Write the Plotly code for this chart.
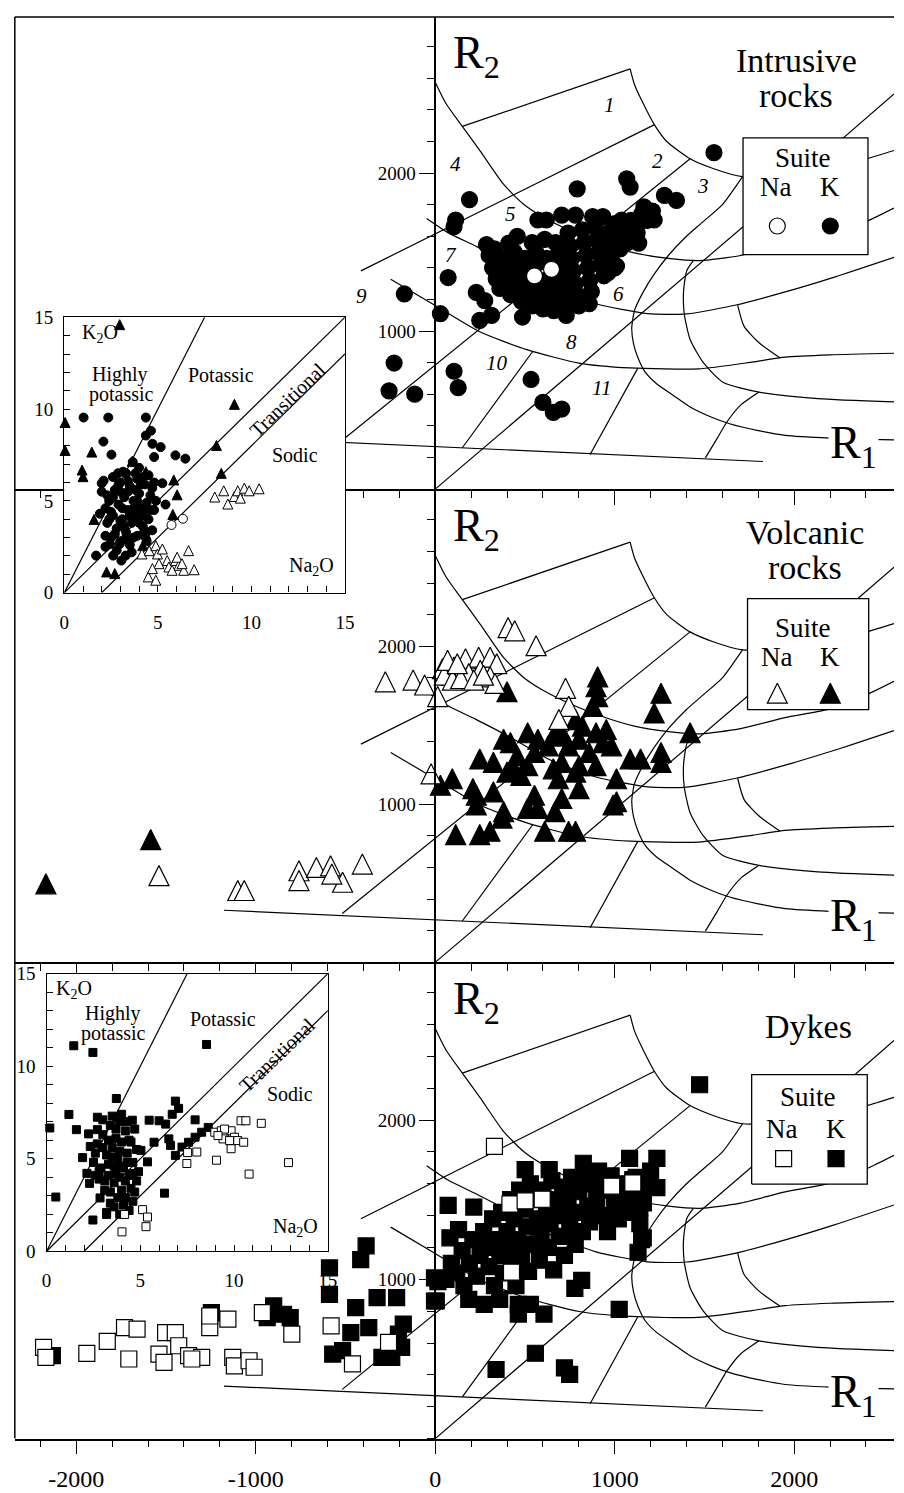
import plotly.graph_objects as go

W, H = 904, 1493
SERIF = "Liberation Serif"

# ---------------- R1-R2 diagram boundaries (R1, R2) ----------------
B_LINE = [(-1177, 330), (1826, 175)]
L1 = [(151, 2295), (1086, 2659)]
L2 = [(-414, 1381), (1219, 2305)]
L3 = [(-518, 309), (1420, 2091)]
L4 = [(0, 0), (1800, 1742)]
L7 = [(1505, 198), (1570, 320), (1625, 425), (1700, 530), (1804, 614)]
L8 = [(151, 262), (543, 871)]
L9 = [(863, 219), (1128, 764)]
LD = [(2200, 2150), (2556, 2500)]
C0 = [(0, 2575), (60, 2440), (151, 2295), (251, 2139), (379, 1931), (489, 1806), (598, 1723),
      (744, 1640), (927, 1557), (1109, 1495), (1300, 1460), (1475, 1446), (1694, 1477),
      (1950, 1549), (2187, 1601), (2406, 1696), (2556, 1779)]
C1 = [(1086, 2659), (1110, 2560), (1150, 2460), (1219, 2310), (1290, 2200), (1420, 2091),
      (1548, 2029), (1712, 1977), (2000, 1990), (2200, 2030), (2406, 2091), (2556, 2143)]
C2 = [(-48, 1713), (76, 1620), (229, 1536), (438, 1412), (629, 1287), (896, 1173), (1182, 1110),
      (1402, 1109), (1676, 1165), (1950, 1248), (2224, 1342), (2556, 1467)]
C4 = [(1438, 1446), (1402, 1384), (1384, 1259), (1387, 1113), (1420, 947), (1493, 802),
      (1603, 677), (1804, 614), (2132, 573), (2556, 552)]
C5 = [(-248, 1328), (0, 1162), (248, 996), (515, 881), (801, 798), (1086, 767), (1468, 761),
      (1771, 805), (1950, 835), (2200, 850), (2556, 860)]
C6 = [(1685, 1165), (1721, 1030), (1804, 926), (1920, 832)]
CV = [(1712, 1977), (1600, 1800), (1480, 1680), (1400, 1600), (1300, 1480), (1220, 1360),
      (1160, 1250), (1110, 1130), (1095, 1020), (1105, 920), (1130, 830), (1170, 740),
      (1230, 670), (1330, 590), (1420, 520), (1540, 455), (1640, 414), (1800, 370),
      (1950, 340), (2200, 323), (2556, 312)]
BOUNDARIES = [B_LINE, L1, L2, L3, L4, L7, L8, L9, LD, C0, C1, C2, C4, C5, C6, CV]

# field numbers (panel 1)
FIELD_LABELS = ["1", "2", "3", "4", "5", "6", "7", "8", "9", "10", "11"]
FIELD_POS = [(972, 2430), (1239, 2077), (1490, 1921), (114, 2056), (419, 1744), (1020, 1235),
             (86, 1484), (762, 933), (-410, 1224), (343, 798), (924, 642)]

# ---------------- Intrusive rocks (R1, R2) ----------------
INTR_K = [(1553, 2129), (1067, 1963), (1086, 1911), (1277, 1859), (1344, 1827), (791, 1900),
          (191, 1832), (114, 1703), (105, 1661), (705, 1734), (781, 1734), (572, 1703),
          (619, 1703), (877, 1724), (934, 1724), (1163, 1786), (1220, 1703), (1039, 1703),
          (1086, 1682), (1125, 1620), (1134, 1557), (286, 1547), (457, 1599), (410, 1557),
          (1010, 1412), (963, 1370), (72, 1339), (-172, 1235), (29, 1110), (229, 1245),
          (276, 1193), (314, 1100), (248, 1068), (486, 1089), (696, 1141), (858, 1173),
          (-229, 798), (105, 746), (128, 642), (-257, 622), (-114, 601), (534, 694),
          (600, 549), (658, 486), (705, 507)]
INTR_K_CLUSTER = [(300, 1480), (320, 1400), (340, 1330), (360, 1270), (380, 1460), (400, 1380),
                  (410, 1300), (420, 1230), (440, 1500), (450, 1420), (460, 1340), (470, 1260),
                  (480, 1190), (500, 1460), (510, 1390), (520, 1310), (530, 1230), (540, 1160),
                  (560, 1500), (570, 1430), (580, 1270), (590, 1200), (600, 1140), (620, 1460),
                  (630, 1330), (640, 1260), (650, 1190), (660, 1130), (670, 1560), (680, 1480),
                  (690, 1400), (700, 1320), (710, 1240), (720, 1170), (740, 1620), (750, 1540),
                  (760, 1460), (770, 1380), (780, 1300), (790, 1230), (800, 1160), (820, 1640),
                  (830, 1560), (840, 1480), (850, 1400), (860, 1320), (870, 1250), (890, 1660),
                  (900, 1580), (910, 1500), (920, 1420), (940, 1350), (960, 1620), (970, 1540),
                  (980, 1460), (1000, 1680), (1010, 1600), (1030, 1520), (1050, 1640),
                  (1070, 1560), (1090, 1700), (1120, 1660), (1150, 1740), (1180, 1700),
                  (1210, 1760), (1000, 1400), (950, 1480), (730, 1100), (610, 1580), (540, 1560),
                  (470, 1440), (360, 1380), (330, 1520)]
INTR_NA = [(553, 1349), (648, 1391)]

# ---------------- Volcanic rocks ----------------
VOLC_K = [(-2169, 497), (-1585, 777), (400, 1713), (905, 1807), (896, 1744), (905, 1682),
          (877, 1620), (1258, 1703), (1220, 1578), (1420, 1453), (1258, 1328), (1258, 1266),
          (1086, 1287), (1144, 1287), (1010, 1162), (991, 996), (1010, 1017), (801, 1100),
          (658, 1225), (686, 1162), (705, 1037), (667, 954), (782, 830), (743, 830), (610, 830),
          (553, 1058), (572, 975), (515, 975), (381, 954), (372, 913), (248, 809), (305, 830),
          (114, 809), (29, 1121), (95, 1162), (210, 1100), (229, 1058), (324, 1079), (229, 996),
          (248, 1287), (324, 1266), (381, 1412), (419, 1391), (515, 1453), (572, 1412),
          (629, 1370), (457, 1308), (515, 1245), (553, 1328), (705, 1453), (782, 1536),
          (820, 1495), (896, 1453), (953, 1474), (743, 1370), (801, 1412), (858, 1328),
          (934, 1391), (982, 1370), (705, 1266), (801, 1245), (896, 1245), (782, 1204),
          (477, 1183), (438, 1225), (400, 1204), (667, 1432), (686, 1495)]
VOLC_NA = [(-278, 1775), (-123, 1786), (-59, 1755), (14, 1682), (41, 1858), (169, 1921),
           (242, 1931), (306, 1931), (343, 1890), (105, 1869), (87, 1817), (187, 1827),
           (251, 1848), (306, 1807), (333, 1765), (406, 2118), (443, 2098), (562, 2004),
           (726, 1734), (744, 1620), (689, 1537), (-23, 1193), (-406, 622), (-516, 507),
           (-1539, 549), (-1100, 455), (-1064, 455), (-759, 580), (-759, 518), (-662, 601),
           (-583, 611), (-576, 559), (50, 1817), (96, 1786), (142, 1796), (69, 1911),
           (123, 1890), (215, 1786), (269, 1817)]

# ---------------- Dykes ----------------
DYKE_K = [(1473, 2222), (501, 1689), (635, 1689), (825, 1729), (1083, 1760), (1235, 1760),
          (968, 1627), (1101, 1627), (1235, 1576), (72, 1464), (215, 1454), (82, 1261),
          (130, 1312), (15, 986), (6, 864), (187, 874), (273, 843), (359, 874), (463, 843),
          (463, 782), (530, 843), (606, 782), (816, 994), (778, 943), (1025, 811), (558, 536),
          (339, 434), (720, 444), (749, 403), (1140, 1454), (1159, 1261), (-385, 1210),
          (-2133, 521), (-1247, 791), (-900, 833), (-845, 781), (-808, 760), (-936, 760),
          (-589, 1072), (-589, 906), (-415, 1124), (-443, 822), (-324, 885), (-215, 885),
          (-470, 666), (-370, 697), (-571, 531), (-516, 552), (-297, 510), (-242, 510),
          (-187, 573), (-178, 719), (-205, 656), (-4, 1009), (-4, 864)]
DYKE_K_CLUSTER = [(60, 1000), (90, 1100), (120, 1040), (150, 1180), (160, 960), (190, 1100),
                  (210, 1250), (230, 1020), (250, 1150), (270, 1300), (290, 1200), (300, 1080),
                  (320, 1380), (330, 960), (340, 1250), (360, 1150), (370, 1420), (380, 1040),
                  (400, 1300), (410, 1200), (420, 1500), (430, 1100), (440, 1380), (450, 960),
                  (460, 1250), (470, 1560), (480, 1150), (500, 1440), (510, 1330), (520, 1050),
                  (530, 1600), (540, 1220), (560, 1500), (570, 1380), (580, 1120), (590, 1290),
                  (600, 1560), (620, 1450), (630, 1200), (640, 1350), (650, 1620), (660, 1060),
                  (670, 1500), (690, 1270), (700, 1400), (710, 1580), (720, 1150), (740, 1480),
                  (750, 1320), (760, 1640), (780, 1220), (790, 1420), (800, 1550), (820, 1300),
                  (830, 1650), (850, 1460), (860, 1360), (880, 1600), (900, 1500), (910, 1680),
                  (930, 1400), (950, 1560), (960, 1300), (980, 1650), (1000, 1480), (1020, 1380),
                  (1040, 1600), (1060, 1520), (1080, 1420), (1100, 1550), (1120, 1640),
                  (1140, 1350), (1150, 1250), (1160, 1480), (1180, 1580), (1200, 1680),
                  (1130, 1170)]
DYKE_NA = [(330, 1835), (416, 1473), (501, 1493), (596, 1503), (983, 1585), (1101, 1605),
           (425, 1045), (-2182, 573), (-2169, 510), (-1941, 535), (-1827, 610), (-1731, 697),
           (-1661, 687), (-1707, 500), (-1502, 666), (-1448, 666), (-1539, 531), (-1511, 479),
           (-1429, 583), (-1374, 521), (-1301, 510), (-1356, 500), (-1256, 697), (-1155, 750),
           (-1256, 770), (-1128, 510), (-1119, 457), (-1037, 489), (-1009, 448), (-963, 791),
           (-799, 656), (-580, 708), (-461, 469), (-260, 604)]

# ---------------- Inset 1: K2O vs Na2O (intrusive + volcanic) ----------------
INS1_CIRC_K = [(1.03, 9.54), (2.35, 9.54), (4.36, 9.54), (2.09, 8.23), (4.63, 8.82), (4.36, 8.56),
               (4.71, 8.11), (5.15, 7.93), (2.52, 7.52), (3.66, 7.12), (4.80, 7.39), (5.94, 7.48),
               (6.47, 7.30), (2.0, 5.96), (2.87, 6.5), (3.14, 6.59), (5.24, 5.96), (5.41, 4.80),
               (1.70, 2.02), (2.61, 2.02), (3.05, 1.75), (3.28, 2.02), (2.96, 2.65), (2.44, 2.65),
               (2.0, 5.5), (2.2, 4.6), (2.3, 3.8), (2.4, 5.0), (2.5, 3.0), (2.6, 4.2), (2.7, 5.6),
               (2.8, 3.5), (2.9, 4.8), (3.0, 2.8), (3.0, 6.0), (3.1, 4.0), (3.2, 5.2), (3.3, 3.3),
               (3.4, 4.5), (3.5, 5.8), (3.5, 2.6), (3.6, 3.8), (3.7, 5.0), (3.8, 4.2), (3.9, 6.2),
               (3.9, 3.1), (4.0, 5.4), (4.1, 4.6), (4.2, 3.6), (4.3, 5.9), (4.4, 4.9), (4.5, 4.0),
               (4.6, 5.3), (4.7, 3.4), (4.8, 4.5), (4.9, 5.0), (2.1, 6.1), (2.6, 6.3), (3.3, 6.5),
               (4.0, 6.8), (4.5, 6.4), (2.2, 3.1), (2.8, 2.3), (3.6, 2.2), (4.4, 2.8), (1.9, 4.3),
               (3.0, 5.5), (3.8, 5.6), (4.2, 4.2),
               (2.3, 5.3), (2.5, 4.4), (2.7, 3.2), (2.9, 5.9), (3.1, 4.6), (3.2, 3.6), (3.4, 5.5),
               (3.5, 4.2), (3.7, 3.0), (3.7, 4.6), (3.9, 5.0), (4.0, 3.8), (4.1, 5.9), (4.3, 4.5),
               (4.4, 3.3), (4.6, 4.5), (4.7, 5.7), (3.3, 2.9), (2.4, 4.0), (2.6, 5.2), (3.0, 3.9),
               (3.8, 6.5), (4.2, 6.3), (4.8, 6.0), (2.2, 2.5), (3.4, 6.1)]
INS1_CIRC_NA = [(5.73, 3.69), (6.34, 4.03)]
INS1_TRI_K = [(2.96, 14.6), (0.04, 9.27), (0.04, 7.75), (0.95, 6.68), (1.0, 6.32), (1.47, 7.66),
              (1.59, 3.99), (9.09, 10.26), (8.13, 8.02), (8.39, 6.5), (5.85, 6.14), (6.03, 5.33),
              (5.80, 4.26), (4.36, 6.59), (2.26, 1.13), (2.70, 1.04), (4.19, 3.4), (4.36, 3.19),
              (4.19, 2.56), (3.63, 7.16)]
INS1_TRI_NA = [(8.04, 5.21), (8.52, 5.55), (8.74, 4.83), (9.09, 5.24), (9.27, 5.55), (9.41, 5.15),
               (9.62, 5.69), (9.88, 5.55), (10.41, 5.66), (4.15, 2.11), (4.54, 2.29), (4.89, 2.56),
               (4.98, 2.11), (5.24, 2.38), (5.50, 1.75), (5.06, 1.58), (5.59, 1.40), (5.94, 1.75),
               (6.12, 1.49), (6.38, 1.22), (5.76, 1.22), (6.64, 2.29), (6.94, 1.25), (4.49, 0.86),
               (4.89, 0.68), (4.71, 1.31), (6.03, 1.93), (6.29, 1.58)]

# ---------------- Inset 2: K2O vs Na2O (dykes) ----------------
INS2_SQ_K = [(1.45, 11.1), (2.47, 10.74), (8.53, 11.17), (3.72, 8.25), (1.19, 7.39), (2.71, 7.24),
             (6.87, 8.11), (7.04, 7.72), (6.70, 7.40), (0.17, 6.66), (1.59, 6.57), (2.24, 6.34),
             (2.71, 6.57), (2.33, 5.66), (1.92, 5.06), (3.81, 7.23), (4.57, 7.08), (5.47, 7.08),
             (6.0, 7.05), (6.35, 6.87), (7.92, 7.10), (8.62, 6.69), (8.27, 6.43), (7.92, 6.16),
             (7.57, 5.89), (7.22, 5.63), (6.87, 5.18), (6.52, 6.07), (6.61, 5.72), (5.73, 5.89),
             (5.03, 5.45), (5.38, 4.83), (2.15, 4.21), (2.29, 3.67), (2.85, 2.88), (3.20, 1.99),
             (2.47, 1.69), (0.49, 2.93), (6.29, 3.14),
             (2.5, 4.8), (2.7, 5.8), (2.8, 3.9), (2.9, 4.5), (3.0, 6.3), (3.1, 3.3), (3.2, 5.2),
             (3.3, 4.1), (3.4, 6.8), (3.4, 2.6), (3.5, 5.6), (3.6, 3.7), (3.6, 4.6), (3.7, 6.1),
             (3.8, 2.9), (3.8, 5.0), (3.9, 4.0), (3.9, 7.0), (4.0, 3.3), (4.0, 5.9), (4.1, 4.5),
             (4.1, 2.5), (4.2, 6.5), (4.2, 3.8), (4.3, 5.3), (4.4, 4.1), (4.4, 2.2), (4.5, 5.9),
             (4.5, 3.4), (4.6, 4.8), (4.7, 6.6), (4.8, 3.8), (4.8, 5.5), (4.9, 4.3), (3.0, 7.1),
             (3.5, 7.3), (4.3, 7.0), (3.2, 2.1), (3.9, 2.0), (4.6, 2.7),
             (2.6, 5.3), (2.8, 4.3), (3.0, 5.6), (3.1, 3.8), (3.3, 4.7), (3.4, 3.2), (3.5, 5.1),
             (3.7, 4.2), (3.7, 6.6), (3.9, 5.4), (4.0, 4.6), (4.2, 2.9), (4.3, 4.8), (4.4, 6.0),
             (4.6, 4.2), (4.7, 3.2), (3.6, 2.4), (3.3, 6.0), (4.0, 7.4), (2.6, 4.1)]
INS2_SQ_NA = [(7.48, 4.74), (7.52, 5.33), (8.01, 5.36), (9.06, 4.92), (10.8, 4.17), (12.9, 4.79),
              (11.45, 6.91), (10.37, 7.05), (10.63, 7.05), (8.97, 6.43), (9.32, 6.51), (9.49, 6.25),
              (9.84, 6.51), (10.02, 6.16), (9.84, 5.54), (10.19, 5.98), (10.51, 5.89), (9.49, 6.6),
              (9.41, 6.07), (9.14, 6.25), (9.76, 5.98), (5.12, 2.25), (5.38, 1.85), (5.30, 1.33),
              (4.02, 1.05), (4.16, 1.99)]

# inset classification lines (Na2O, K2O)
INSET_LINES = [[(0, 0), (7.5, 15)], [(0, 0), (15, 15)], [(2, 0), (15, 13)]]

# ---------------- axes / layout values ----------------
X_RANGE = [-2342, 2556]
X_MAJOR = [-2000, -1000, 0, 1000, 2000]
X_LABELS = ["-2000", "-1000", "0", "1000", "2000"]
Y_MAJOR = [1000, 2000]
Y_LABELS = ["1000", "2000"]
PANEL_PX = [(7, 486), (486, 966), (966, 1449)]
Y_RANGES = [[0, 2988], [0, 2994], [0, 2990]]
PANEL_AXES = [("x3", "y"), ("x2", "y2"), ("x", "y3")]

LEGEND_BOX = [(1715, 2411, 1484, 2222), (1740, 2415, 1599, 2301), (1763, 2407, 1598, 2285)]
LEGEND_SUITE = [(2049, 2098), (2049, 2117), (2077, 2143)]
LEGEND_NA = [(1896, 1911), (1902, 1931), (1931, 1945)]
LEGEND_K = [(2201, 1911), (2201, 1931), (2233, 1945)]
LEGEND_SYM_NA = [(1906, 1665), (1906, 1703), (1941, 1758)]
LEGEND_SYM_K = [(2201, 1665), (2201, 1703), (2233, 1758)]
TITLES = [[("Intrusive", 2011, 2714), ("rocks", 2011, 2492)],
          [("Volcanic", 2062, 2718), ("rocks", 2058, 2497)],
          [("Dykes", 2078, 2590)]]


def unzip(pts):
    return [p[0] for p in pts], [p[1] for p in pts]


def join(lines):
    xs, ys = [], []
    for pts in lines:
        for a, b in pts:
            xs.append(a)
            ys.append(b)
        xs.append(None)
        ys.append(None)
    return xs, ys


def mk(symbol, size, filled, lw=1.2):
    m = dict(symbol=symbol, size=size, color="black" if filled else "white",
             line=dict(color="black", width=lw))
    if symbol == "arrow-down":
        m["angle"] = 180
        m["standoff"] = size / 2.0
    return m


fig = go.Figure()

SYMS = ["circle", "arrow-down", "square"]
SIZES = [16, 20, 16]
K_DATA = [INTR_K + INTR_K_CLUSTER, VOLC_K, DYKE_K + DYKE_K_CLUSTER]
NA_DATA = [INTR_NA, VOLC_NA, DYKE_NA]

for i, (xa, ya) in enumerate(PANEL_AXES):
    bx, by = join(BOUNDARIES)
    fig.add_trace(go.Scatter(x=bx, y=by, xaxis=xa, yaxis=ya, mode="lines",
                             line=dict(color="black", width=1.2, shape="spline", smoothing=0.6),
                             connectgaps=False, hoverinfo="skip", showlegend=False))
    l, r, b, t = LEGEND_BOX[i]
    fig.add_trace(go.Scatter(x=[l, r, r, l, l], y=[b, b, t, t, b], xaxis=xa, yaxis=ya,
                             mode="lines", fill="toself", fillcolor="white",
                             line=dict(color="black", width=1.3), hoverinfo="skip",
                             showlegend=False))
    kx, ky = unzip(K_DATA[i])
    fig.add_trace(go.Scatter(x=kx, y=ky, xaxis=xa, yaxis=ya, mode="markers",
                             marker=mk(SYMS[i], SIZES[i], True), cliponaxis=False,
                             showlegend=False))
    nx, ny = unzip(NA_DATA[i])
    fig.add_trace(go.Scatter(x=nx, y=ny, xaxis=xa, yaxis=ya, mode="markers",
                             marker=mk(SYMS[i], SIZES[i], False), cliponaxis=False,
                             showlegend=False))
    fig.add_trace(go.Scatter(x=[LEGEND_SYM_NA[i][0]], y=[LEGEND_SYM_NA[i][1]], xaxis=xa, yaxis=ya,
                             mode="markers", marker=mk(SYMS[i], SIZES[i], False), showlegend=False))
    fig.add_trace(go.Scatter(x=[LEGEND_SYM_K[i][0]], y=[LEGEND_SYM_K[i][1]], xaxis=xa, yaxis=ya,
                             mode="markers", marker=mk(SYMS[i], SIZES[i], True), showlegend=False))

# ---------------- insets ----------------
INSETS = [("x4", "y4"), ("x5", "y5")]
for j, (xa, ya) in enumerate(INSETS):
    fig.add_trace(go.Scatter(x=[0, 15, 15, 0, 0], y=[0, 0, 15, 15, 0], xaxis=xa, yaxis=ya,
                             mode="lines", fill="toself", fillcolor="white",
                             line=dict(color="rgba(0,0,0,0)", width=0), hoverinfo="skip",
                             showlegend=False))
    lx, ly = join(INSET_LINES)
    fig.add_trace(go.Scatter(x=lx, y=ly, xaxis=xa, yaxis=ya, mode="lines",
                             line=dict(color="black", width=1.2), hoverinfo="skip",
                             showlegend=False))

INSET_SERIES = [
    ("x4", "y4", INS1_CIRC_K, "circle", 9, True),
    ("x4", "y4", INS1_TRI_K, "arrow-down", 10, True),
    ("x4", "y4", INS1_TRI_NA, "arrow-down", 10, False),
    ("x4", "y4", INS1_CIRC_NA, "circle", 9, False),
    ("x5", "y5", INS2_SQ_K, "square", 8, True),
    ("x5", "y5", INS2_SQ_NA, "square", 8, False),
]
for xa, ya, pts, sym, sz, filled in INSET_SERIES:
    px_, py_ = unzip(pts)
    fig.add_trace(go.Scatter(x=px_, y=py_, xaxis=xa, yaxis=ya, mode="markers",
                             marker=mk(sym, sz, filled, lw=1.0), cliponaxis=False,
                             showlegend=False))


# ---------------- axes ----------------
def xax(anchor, labels):
    return dict(domain=[10 / W, 1], range=X_RANGE, anchor=anchor, showgrid=False, zeroline=False,
                showline=True, linecolor="black", linewidth=1.5, ticks="outside", ticklen=14,
                tickwidth=1.3, tickcolor="black", tickmode="array", tickvals=X_MAJOR,
                ticktext=X_LABELS, showticklabels=labels, ticklabelstandoff=4,
                tickfont=dict(family=SERIF, size=24, color="black"),
                minor=dict(ticks="outside", tickmode="linear", tick0=0, dtick=200, ticklen=7,
                           tickwidth=1.3, tickcolor="black"),
                fixedrange=True)


def yax(i):
    top, bot = PANEL_PX[i]
    return dict(domain=[1 - bot / H, 1 - top / H], range=Y_RANGES[i], anchor="free",
                position=437.5 / W, side="left", showgrid=False, zeroline=False, showline=True,
                linecolor="black", linewidth=1.5, ticks="outside", ticklen=15, tickwidth=1.3,
                tickcolor="black", tickmode="array", tickvals=Y_MAJOR, ticktext=Y_LABELS,
                tickfont=dict(family=SERIF, size=19, color="black"),
                minor=dict(ticks="outside", tickmode="linear", tick0=0, dtick=200, ticklen=7,
                           tickwidth=1.3, tickcolor="black"),
                fixedrange=True)


INSET_PX = [(60.3, 345.7, 311.7, 591.0), (42.3, 328.3, 977.3, 1259.0)]


def inset_x(j):
    l, r, t, b = INSET_PX[j]
    return dict(domain=[l / W, r / W], range=[0, 15], anchor="y%d" % (j + 4), showgrid=False,
                zeroline=False, showline=True, mirror=True, linecolor="black", linewidth=1.4,
                ticks="inside", ticklen=6, tickwidth=1.2, tickcolor="black", tickmode="array",
                tickvals=[0, 5, 10, 15], ticklabelstandoff=12,
                tickfont=dict(family=SERIF, size=19, color="black"),
                minor=dict(ticks="inside", tickmode="linear", tick0=0, dtick=1, ticklen=6,
                           tickwidth=1.2, tickcolor="black"), fixedrange=True)


def inset_y(j):
    l, r, t, b = INSET_PX[j]
    return dict(domain=[1 - b / H, 1 - t / H], range=[0, 15], anchor="x%d" % (j + 4), showgrid=False,
                zeroline=False, showline=True, mirror=True, linecolor="black", linewidth=1.4,
                ticks="inside", ticklen=6, tickwidth=1.2, tickcolor="black", tickmode="array",
                tickvals=[0, 5, 10, 15], ticklabelstandoff=6,
                tickfont=dict(family=SERIF, size=19, color="black"),
                minor=dict(ticks="inside", tickmode="linear", tick0=0, dtick=1, ticklen=6,
                           tickwidth=1.2, tickcolor="black"), fixedrange=True)


fig.update_layout(
    width=W, height=H, margin=dict(l=0, r=0, t=0, b=0, pad=0),
    paper_bgcolor="white", plot_bgcolor="white", showlegend=False,
    font=dict(family=SERIF, color="black"),
    xaxis=xax("y3", True), xaxis2=xax("y2", False), xaxis3=xax("y", False),
    yaxis=yax(0), yaxis2=yax(1), yaxis3=yax(2),
    xaxis4=inset_x(0), yaxis4=inset_y(0), xaxis5=inset_x(1), yaxis5=inset_y(1),
)

# frame lines (left border and top border)
fig.add_shape(type="line", xref="paper", yref="paper", x0=10 / W, x1=10 / W,
              y0=1 - 1449 / H, y1=1 - 7 / H, line=dict(color="black", width=1.5))
fig.add_shape(type="line", xref="paper", yref="paper", x0=10 / W, x1=1,
              y0=1 - 7 / H, y1=1 - 7 / H, line=dict(color="black", width=1.5))

# ---------------- annotations ----------------
ann = []
for i, (xa, ya) in enumerate(PANEL_AXES):
    ann.append(dict(xref=xa, yref=ya, x=232, y=2740, text="R<sub>2</sub>", showarrow=False,
                    font=dict(family=SERIF, size=46, color="black")))
    ann.append(dict(xref=xa, yref=ya, x=2328, y=275, text="R<sub>1</sub>", showarrow=False,
                    bgcolor="white", font=dict(family=SERIF, size=46, color="black")))
    for txt, tx, ty in TITLES[i]:
        ann.append(dict(xref=xa, yref=ya, x=tx, y=ty, text=txt, showarrow=False,
                        font=dict(family=SERIF, size=34, color="black")))
    ann.append(dict(xref=xa, yref=ya, x=LEGEND_SUITE[i][0], y=LEGEND_SUITE[i][1], text="Suite",
                    showarrow=False, font=dict(family=SERIF, size=27, color="black")))
    ann.append(dict(xref=xa, yref=ya, x=LEGEND_NA[i][0], y=LEGEND_NA[i][1], text="Na",
                    showarrow=False, font=dict(family=SERIF, size=27, color="black")))
    ann.append(dict(xref=xa, yref=ya, x=LEGEND_K[i][0], y=LEGEND_K[i][1], text="K",
                    showarrow=False, font=dict(family=SERIF, size=27, color="black")))

for lab, (fx, fy) in zip(FIELD_LABELS, FIELD_POS):
    ann.append(dict(xref="x3", yref="y", x=fx, y=fy, text="<i>%s</i>" % lab, showarrow=False,
                    font=dict(family=SERIF, size=21, color="black")))

INSET_TEXT = [
    [("K<sub>2</sub>O", 1.91, 14.1, 0), ("Highly", 2.96, 11.87, 0), ("potassic", 3.05, 10.79, 0),
     ("Potassic", 8.39, 11.87, 0), ("Transitional", 11.9, 10.52, -44), ("Sodic", 12.34, 7.48, 0),
     ("Na<sub>2</sub>O", 13.21, 1.43, 0)],
    [("K<sub>2</sub>O", 1.45, 14.15, 0), ("Highly", 3.55, 12.82, 0), ("potassic", 3.55, 11.75, 0),
     ("Potassic", 9.41, 12.55, 0), ("Transitional", 12.29, 10.6, -44), ("Sodic", 12.99, 8.47, 0),
     ("Na<sub>2</sub>O", 13.25, 1.28, 0)],
]
for j, (xa, ya) in enumerate(INSETS):
    for txt, tx, ty, ang in INSET_TEXT[j]:
        ann.append(dict(xref=xa, yref=ya, x=tx, y=ty, text=txt, showarrow=False, textangle=ang,
                        font=dict(family=SERIF, size=20, color="black")))

fig.update_layout(annotations=ann)
fig.write_html("out.html")
